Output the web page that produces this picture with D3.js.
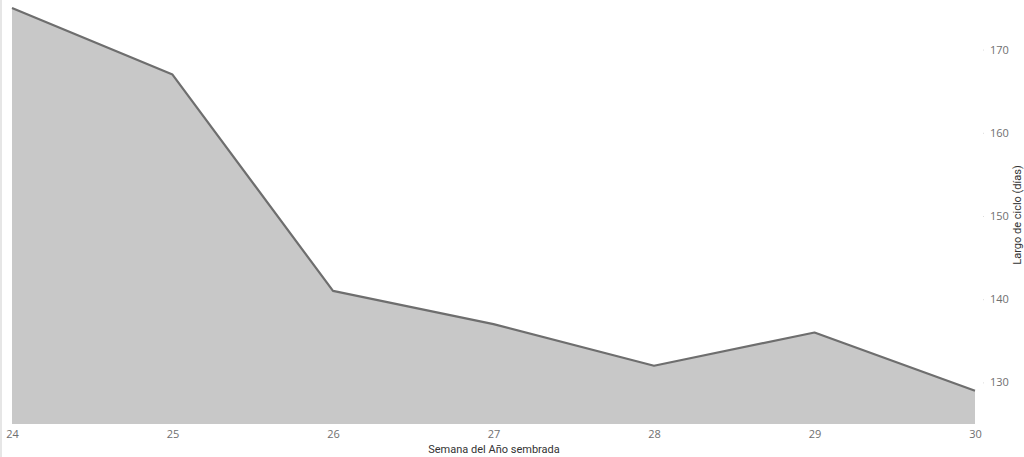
<!DOCTYPE html>
<html><head><meta charset="utf-8">
<script src="https://cdn.jsdelivr.net/npm/d3@7"></script>
<style>body{margin:0;background:#fff;}svg{display:block;font-family:"Open Sans",sans-serif;}</style>
</head><body><svg id="c" width="1024" height="457"></svg>
<script>
const weeks = [24, 25, 26, 27, 28, 29, 30];
const cycleDays = [175, 167, 141, 137, 132, 136, 129];
const yTicks = [130, 140, 150, 160, 170];
const xTitle = "Semana del Año sembrada";
const yTitle = "Largo de ciclo (días)";

const svg = d3.select("#c");
const x = d3.scaleLinear().domain([24, 30]).range([12, 975]);
const y = d3.scaleLinear().domain([125, 175]).range([424, 8]);
const data = weeks.map((w, i) => ({w, v: cycleDays[i]}));

svg.append("line").attr("x1",1).attr("x2",1).attr("y1",0).attr("y2",457).attr("stroke","#e6e6e6").attr("stroke-width",2);

svg.append("path").datum(data)
  .attr("d", d3.area().x(d => x(d.w)).y0(y(125)).y1(d => y(d.v)))
  .attr("fill", "#c8c8c8");
svg.append("path").datum(data)
  .attr("d", d3.line().x(d => x(d.w)).y(d => y(d.v)))
  .attr("fill", "none").attr("stroke", "#6e6e6e").attr("stroke-width", 2.2).attr("stroke-linejoin","round");

const xa = svg.append("g").attr("transform", `translate(0,${y(125)})`)
  .call(d3.axisBottom(x).tickValues(weeks).tickFormat(d3.format("d")).tickSize(0).tickPadding(6));
xa.select(".domain").remove();
xa.selectAll("text").attr("fill","#6f6f6f").style("font-size","11px").style("font-family","Open Sans, sans-serif");

const ya = svg.append("g").attr("transform", `translate(983,0)`)
  .call(d3.axisRight(y).tickValues(yTicks).tickSize(1).tickPadding(6));
ya.select(".domain").remove();
ya.selectAll("line").attr("stroke","#ddd");
ya.selectAll("text").attr("fill","#6f6f6f").style("font-size","11px").style("font-family","Open Sans, sans-serif");

svg.append("text").attr("x", 494).attr("y", 453).attr("text-anchor","middle")
  .attr("fill","#333").style("font-size","11px").style("font-family","Roboto, sans-serif").text(xTitle);
svg.append("text").attr("transform","translate(1017,215) rotate(-90)").attr("text-anchor","middle")
  .attr("dy","0.35em").attr("fill","#333").style("font-size","11px").style("font-family","Roboto, sans-serif").text(yTitle);
</script></body></html>
